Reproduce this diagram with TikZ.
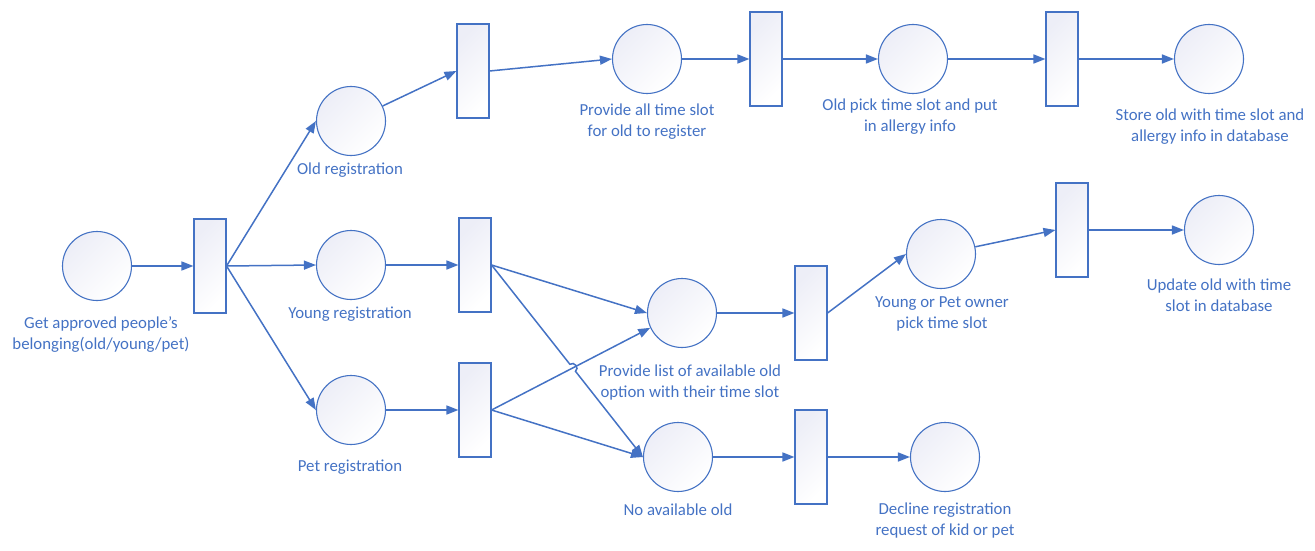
\documentclass[tikz,border=0pt]{standalone}
\usepackage{fontspec}
\setmainfont{Carlito}
\usetikzlibrary{arrows.meta}
\definecolor{ob}{HTML}{4472C4}
\definecolor{lav}{HTML}{EDEEF7}
\begin{document}
\begin{tikzpicture}[x=1pt,y=-1pt,
  place/.style={circle, draw=ob, line width=1.1pt, minimum size=69pt, inner sep=0pt,
    top color=lav, bottom color=white, shading angle=45},
  trans/.style={rectangle, draw=ob, line width=1.1pt, minimum width=32pt, minimum height=94pt,
    inner sep=0pt, top color=lav, bottom color=white, shading angle=45},
  lbl/.style={text=ob, align=center, font=\fontsize{16.8}{21}\selectfont, inner sep=0pt},
  flow/.style={draw=ob, line width=1.5pt, -{Triangle[length=12pt,width=9pt]}}
]
\useasboundingbox (0,0) rectangle (1315,551);

% places and transitions
\node[place] (p0) at (97,266) {};
\node[trans] (t0) at (210,266) {};
\node[place] (pold) at (351,121) {};
\node[place] (pyoung) at (351,265) {};
\node[place] (ppet) at (351,410) {};
\node[trans] (told) at (473,71) {};
\node[trans] (tyoung) at (475,265) {};
\node[trans] (tpet) at (475,410) {};
\node[place] (pall) at (647,59) {};
\node[trans] (tall) at (766,59) {};
\node[place] (ppick) at (913,59) {};
\node[trans] (tpick) at (1062,59) {};
\node[place] (pstore) at (1209,59) {};
\node[place] (plist) at (682,313) {};
\node[trans] (tlist) at (811,313) {};
\node[place] (pyp) at (941,254) {};
\node[trans] (typ) at (1072,230) {};
\node[place] (pupd) at (1219,230) {};
\node[place] (pno) at (678,457) {};
\node[trans] (tno) at (811,457) {};
\node[place] (pdec) at (945,457) {};

% labels
\node[lbl] (l0) at (101,335) {Get approved people’s\\belonging(old/young/pet)};
\node[lbl] (lold) at (350,170) {Old registration};
\node[lbl] (lyoung) at (350,314) {Young registration};
\node[lbl] (lpet) at (350,467) {Pet registration};
\node[lbl] (lall) at (647,122) {Provide all time slot\\for old to register};
\node[lbl] (lpick) at (910,117) {Old pick time slot and put\\in allergy info};
\node[lbl] (lstore) at (1210,127) {Store old with time slot and\\allergy info in database};
\node[lbl] (llist) at (690,383) {Provide list of available old\\option with their time slot};
\node[lbl] (lyp) at (942,314) {Young or Pet owner\\pick time slot};
\node[lbl] (lupd) at (1219,295) {Update old with time\\slot in database};
\node[lbl] (lno) at (678,510) {No available old};
\node[lbl] (ldec) at (945,521) {Decline registration\\request of kid or pet};

% arcs
\draw[flow] (p0) -- (t0.west);
\draw[flow] (t0.east) -- (pold.west);
\draw[flow] (t0.east) -- (pyoung.west);
\draw[flow] (t0.east) -- (ppet.west);
\draw[flow] (pold) -- (told.west);
\draw[flow] (told.east) -- (pall.west);
\draw[flow] (pall) -- (tall.west);
\draw[flow] (tall.east) -- (ppick.west);
\draw[flow] (ppick) -- (tpick.west);
\draw[flow] (tpick.east) -- (pstore.west);
\draw[flow] (pyoung) -- (tyoung.west);
\draw[flow] (ppet) -- (tpet.west);
\draw[flow] (tyoung.east) -- (plist.west);
\draw[flow] (tpet.east) -- (plist.205);
\draw[flow] (tpet.east) -- (pno.west);
\coordinate (hopa) at (569.9,364.3);
\coordinate (hopb) at (575.5,371.3);
\draw[flow] (tyoung.east) -- (hopa) .. controls (574.1,361.0) and (579.7,368.0) .. (hopb) -- (pno.west);
\draw[flow] (plist) -- (tlist.west);
\draw[flow] (tlist.east) -- (pyp.west);
\draw[flow] (pyp) -- (typ.west);
\draw[flow] (typ.east) -- (pupd.west);
\draw[flow] (pno) -- (tno.west);
\draw[flow] (tno.east) -- (pdec.west);
\end{tikzpicture}
\end{document}
